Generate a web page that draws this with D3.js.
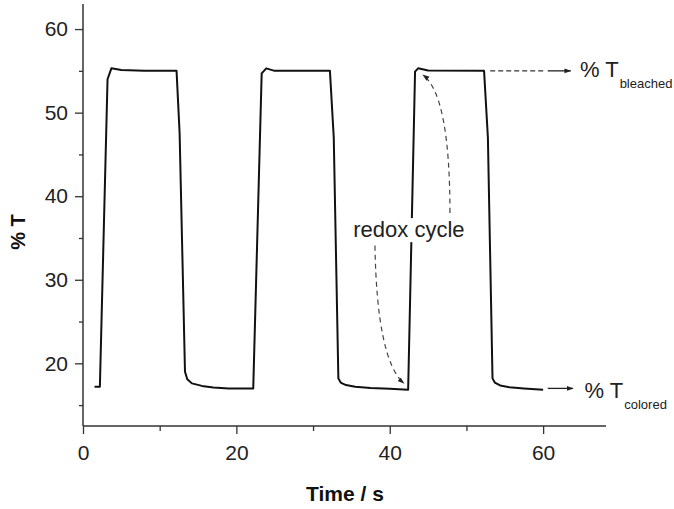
<!DOCTYPE html>
<html>
<head>
<meta charset="utf-8">
<script src="https://cdn.jsdelivr.net/npm/d3@7"></script>
<style>
  body { margin: 0; background: #fff; }
  svg { display: block; font-family: "Liberation Sans", Arial, sans-serif; }
</style>
</head>
<body>
<div id="chart"></div>
<script>
// time (s) and transmittance (%)
const timeS = [1.5, 2.2, 3.2, 3.7, 5, 8, 12.2, 12.6, 13.3, 13.6, 14.2, 15.5, 17, 19, 22.2,
  23.3, 23.9, 25, 32.2, 32.7, 33.3, 33.6, 34.3, 35.5, 37.5, 40, 42.4,
  43.3, 43.7, 45, 52.3, 52.8, 53.4, 53.7, 54.4, 55.6, 57.5, 60];
const transmittance = [17.2, 17.2, 54.0, 55.3, 55.1, 55.0, 55.0, 47.5, 19.0, 18.1, 17.6, 17.3, 17.1, 17.0, 17.0,
  54.7, 55.3, 55.0, 55.0, 47.0, 18.2, 17.7, 17.4, 17.2, 17.05, 16.95, 16.85,
  54.9, 55.3, 55.05, 55.0, 47.0, 18.2, 17.7, 17.35, 17.15, 17.0, 16.85];

const xMajor = [0, 20, 40, 60];
const xMinor = [10, 30, 50];
const yMajor = [20, 30, 40, 50, 60];
const yMinor = [15, 25, 35, 45, 55];

const width = 674, height = 509;
const x = d3.scaleLinear().domain([0, 68.2]).range([83, 606]);
const y = d3.scaleLinear().domain([12.5, 63]).range([426, 4]);

const svg = d3.select("#chart").append("svg")
  .attr("width", width).attr("height", height);

const defs = svg.append("defs");
defs.append("marker")
  .attr("id", "head")
  .attr("viewBox", "0 0 10 10")
  .attr("refX", 9).attr("refY", 5)
  .attr("markerWidth", 7).attr("markerHeight", 7)
  .attr("markerUnits", "userSpaceOnUse")
  .attr("orient", "auto")
  .append("path").attr("d", "M0,1.5L10,5L0,8.5Z").attr("fill", "#222");

// axes: only left and bottom, ticks outward
const ax = "#333";
svg.append("g").attr("transform", `translate(0,${y.range()[0]})`)
  .call(d3.axisBottom(x).tickValues(xMajor).tickSize(8).tickPadding(11).tickFormat(d3.format("d")));
svg.append("g").attr("transform", `translate(0,${y.range()[0]})`)
  .call(d3.axisBottom(x).tickValues(xMinor).tickSize(5).tickFormat(""));

svg.append("g").attr("transform", `translate(${x.range()[0]},0)`)
  .call(d3.axisLeft(y).tickValues(yMajor).tickSize(8).tickPadding(7).tickFormat(d3.format("d")));
svg.append("g").attr("transform", `translate(${x.range()[0]},0)`)
  .call(d3.axisLeft(y).tickValues(yMinor).tickSize(4).tickFormat(""));

// drop d3's domain paths (they add end caps) and draw plain axis lines
svg.selectAll(".domain").remove();
svg.append("line")
  .attr("x1", x.range()[0]).attr("x2", x.range()[1])
  .attr("y1", y.range()[0]).attr("y2", y.range()[0])
  .attr("stroke", ax).attr("stroke-width", 1.5);
svg.append("line")
  .attr("x1", x.range()[0]).attr("x2", x.range()[0])
  .attr("y1", y.range()[0]).attr("y2", y.range()[1])
  .attr("stroke", ax).attr("stroke-width", 1.5);

svg.selectAll(".tick line").attr("stroke", ax).attr("stroke-width", 1.3);
svg.selectAll(".tick text").attr("font-size", 21).attr("fill", "#222")
  .attr("font-family", "Liberation Sans, Arial, sans-serif");

// axis titles
svg.append("text")
  .attr("transform", `translate(25,232) rotate(-90)`)
  .attr("text-anchor", "middle")
  .attr("font-size", 20).attr("font-weight", "bold").attr("fill", "#111")
  .text("% T");
svg.append("text")
  .attr("x", 345).attr("y", 501)
  .attr("text-anchor", "middle")
  .attr("font-size", 21).attr("font-weight", "bold").attr("fill", "#111")
  .text("Time / s");

// the response curve
const pts = timeS.map((t, i) => [t, transmittance[i]]);
svg.append("path")
  .datum(pts)
  .attr("fill", "none")
  .attr("stroke", "#111")
  .attr("stroke-width", 2)
  .attr("stroke-linejoin", "round")
  .attr("d", d3.line().x(d => x(d[0])).y(d => y(d[1])));

// bleached arrow: dashed run then solid with head
const yB = y(55.0);
svg.append("line")
  .attr("x1", x(53.1)).attr("x2", x(60.3)).attr("y1", yB).attr("y2", yB)
  .attr("stroke", "#333").attr("stroke-width", 1.3).attr("stroke-dasharray", "5,3");
svg.append("line")
  .attr("x1", x(60.6)).attr("x2", x(63.6)).attr("y1", yB).attr("y2", yB)
  .attr("stroke", "#222").attr("stroke-width", 1.3).attr("marker-end", "url(#head)");

// colored arrow
const yC = y(17.0);
svg.append("line")
  .attr("x1", x(60.6)).attr("x2", x(63.9)).attr("y1", yC).attr("y2", yC)
  .attr("stroke", "#222").attr("stroke-width", 1.3).attr("marker-end", "url(#head)");

function tLabel(tx, ty, sub) {
  const t = svg.append("text").attr("x", tx).attr("y", ty)
    .attr("font-size", 22).attr("fill", "#222");
  t.append("tspan").text("% T");
  t.append("tspan").attr("dy", 11).attr("dx", 1).attr("font-size", 13).text(sub);
}
tLabel(x(64.8), 77, "bleached");
tLabel(x(65.4), 398, "colored");

// redox cycle label (white box hides the curve behind it) and curved dashed arrows
const redox = svg.append("text")
  .attr("x", x(42.5)).attr("y", y(35.1))
  .attr("text-anchor", "middle")
  .attr("font-size", 22).attr("fill", "#222")
  .text("redox cycle");
const bb = redox.node().getBBox();
svg.append("rect")
  .attr("x", bb.x - 2).attr("y", bb.y + 1)
  .attr("width", bb.width + 4).attr("height", bb.height - 1)
  .attr("fill", "#fff");
redox.raise();

const curved = [
  [[47.85, 38.0], [47.85, 52.1], [44.33, 54.5]],
  [[38.07, 34.1], [38.33, 20.4], [41.85, 17.6]]
];
curved.forEach(([a, c, b]) => {
  svg.append("path")
    .attr("d", `M${x(a[0])},${y(a[1])}Q${x(c[0])},${y(c[1])} ${x(b[0])},${y(b[1])}`)
    .attr("fill", "none")
    .attr("stroke", "#444").attr("stroke-width", 1.2)
    .attr("stroke-dasharray", "5,4")
    .attr("marker-end", "url(#head)");
});
</script>
</body>
</html>
